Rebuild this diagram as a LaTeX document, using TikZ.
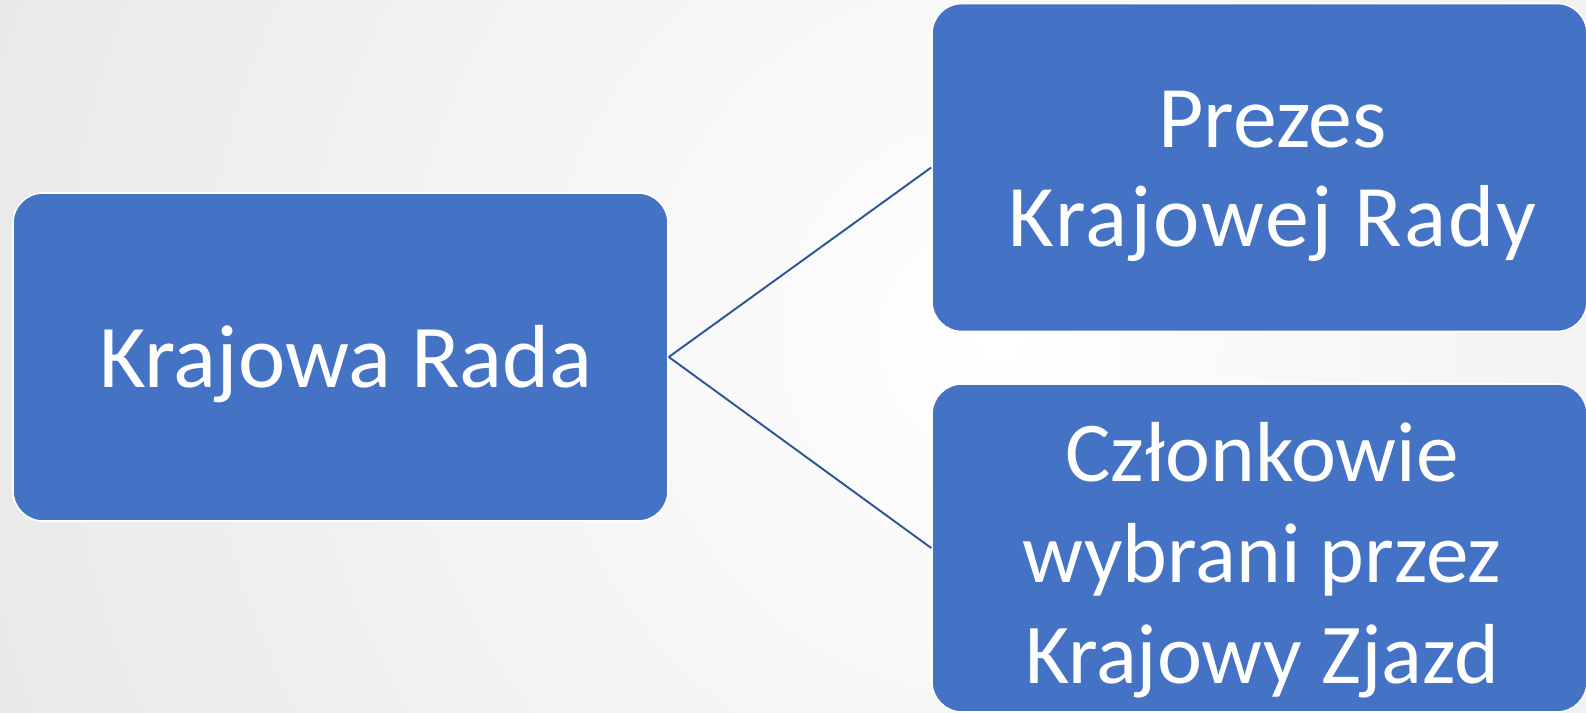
\documentclass[tikz,border=0pt]{standalone}
\usepackage{fontspec}
\setmainfont{Carlito}
\usepackage{tikz}
\usetikzlibrary{positioning,shapes,calc,backgrounds}

\definecolor{boxblue}{HTML}{4472C4}
\definecolor{linkblue}{HTML}{2F5597}
\definecolor{bggray}{HTML}{E4E4E4}

\tikzset{
  orgbox/.style = {draw = white, line width = 0.9pt, fill = boxblue, rounded corners = 0.6cm,
    minimum width = 13.1cm, minimum height = 6.56cm, inner sep = 0pt},
  boxtext/.style = {text = white, align = center, inner sep = 0pt},
  link/.style = {draw = linkblue, line width = 1.1pt}
}

\begin{document}
\begin{tikzpicture}

\useasboundingbox (0,0) rectangle (31.72, 14.26);
\begin{scope}
\clip (0,0) rectangle (31.72, 14.26);
\shade[inner color = white, outer color = bggray] (20, 7.5) circle (26cm);
\end{scope}

% boxes
\node[orgbox] (rada) at (6.81, 7.12) {};
\node[orgbox] (prezes) at (25.19, 10.91) {};
\node[orgbox] (czlonkowie) at (25.19, 3.30) {};

% texts
\node[boxtext, font = \fontsize{51}{57}\selectfont] (radatext)
  at ([xshift = 0.11cm, yshift = -0.15cm]rada.center) {Krajowa Rada};
\node[boxtext, font = \fontsize{50}{56.5}\selectfont] (prezestext)
  at ([xshift = 0.26cm, yshift = -0.17cm]prezes.center)
  {Prezes\\{\addfontfeature{LetterSpace=2.4}Krajowej Rady}};
\node[boxtext, font = \fontsize{48.5}{57.5}\selectfont] (czlonkowietext)
  at ([xshift = 0.05cm, yshift = -0.24cm]czlonkowie.center) {Członkowie\\wybrani przez\\Krajowy Zjazd};

\draw[link] (rada.east) -- (prezes.west);
\draw[link] (rada.east) -- (czlonkowie.west);

\end{tikzpicture}
\end{document}
